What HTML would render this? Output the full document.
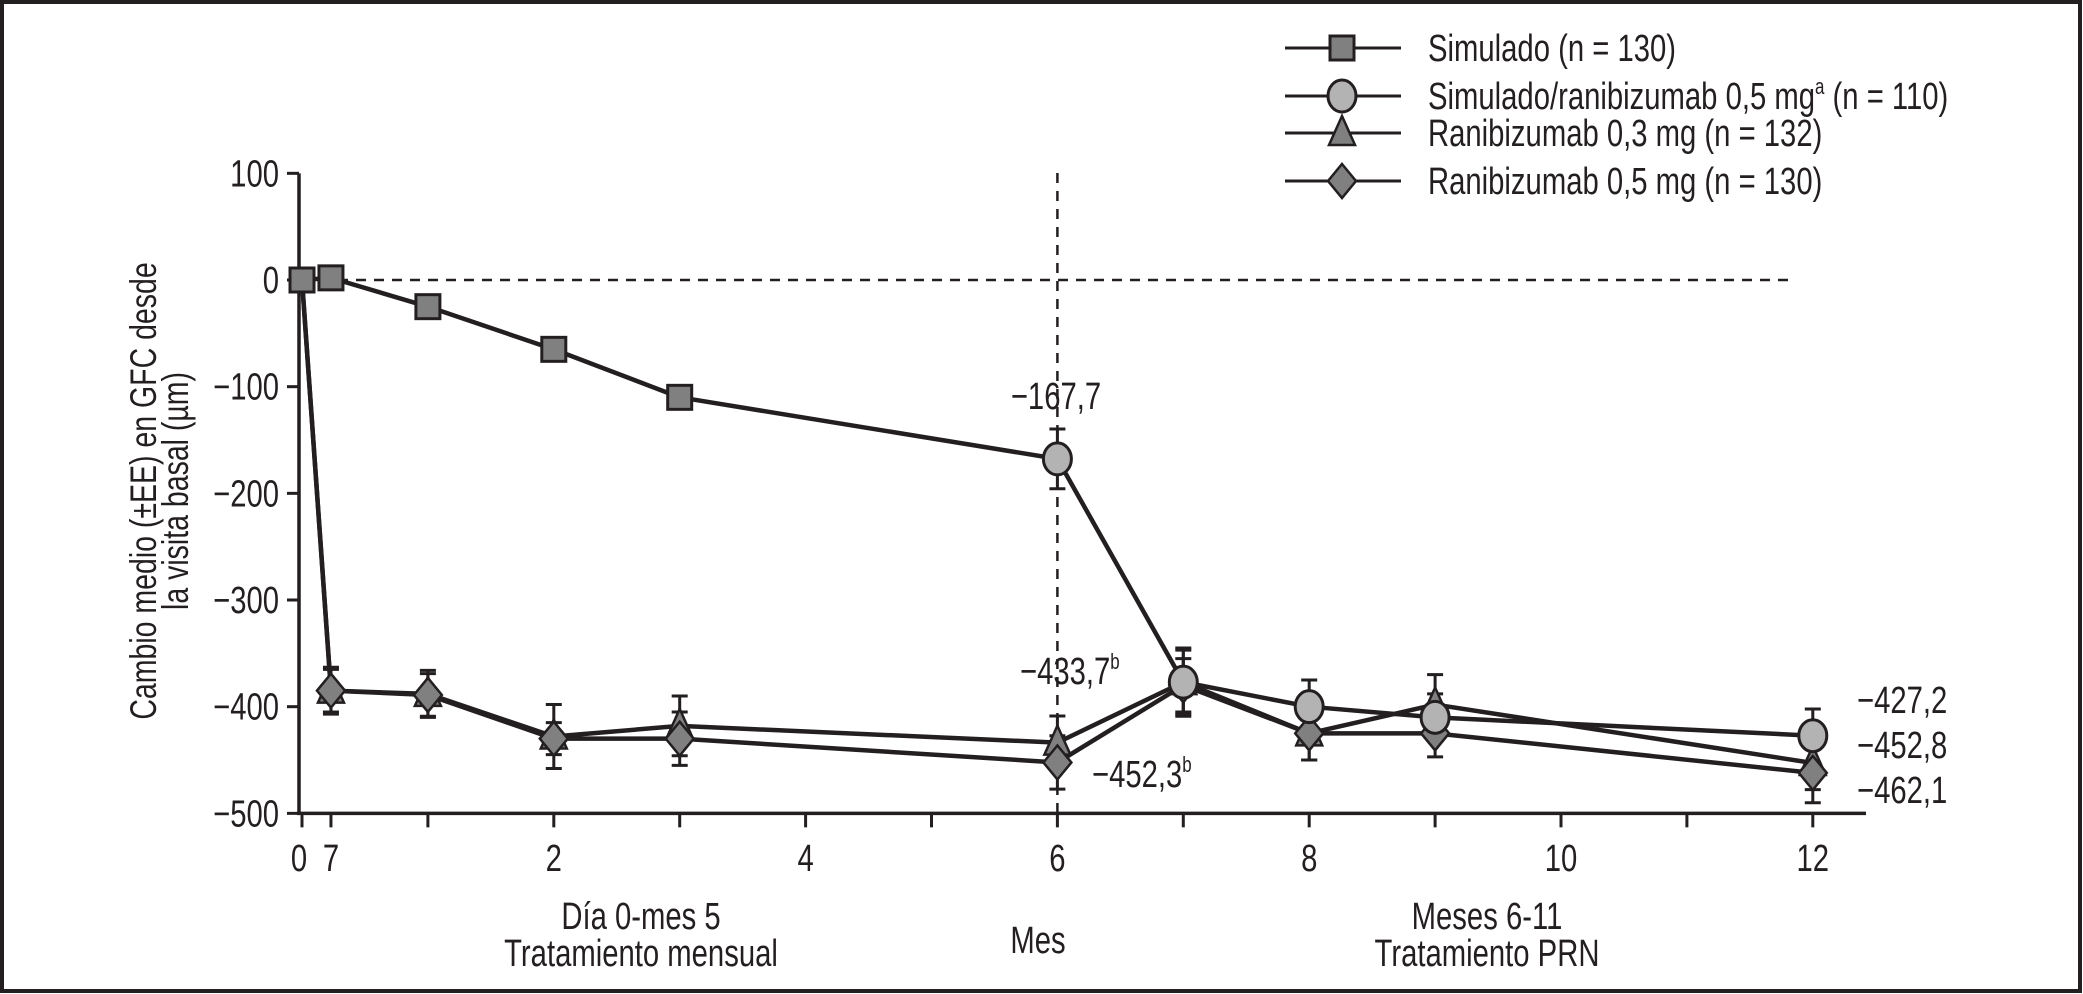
<!DOCTYPE html>
<html><head><meta charset="utf-8"><style>
html,body{margin:0;padding:0;background:#fff}
svg{display:block}
text{font-family:"Liberation Sans",sans-serif;fill:#231f20}
</style></head><body>
<svg id="chart" width="2083" height="994" viewBox="0 0 2083 994">
<rect x="2" y="2" width="2078" height="989" fill="#fff" stroke="#231f20" stroke-width="4"/>
<g id="plot"></g>
</svg>
<script>
const yTicks=[100,0,-100,-200,-300,-400,-500];
const yTickLabels=["100","0","−100","−200","−300","−400","−500"];
const xTicksMonths=[0,0.23,1,2,3,4,5,6,7,8,9,10,11,12];
const xTickLabelPos=[0,0.23,2,4,6,8,10,12];
const xTickLabels=["0","7","2","4","6","8","10","12"];
const shamX=[0,0.23,1,2,3,6];
const shamY=[0,2,-25,-65,-110,-167.7];
const shamRaniX=[6,7,8,9,12];
const shamRaniY=[-167.7,-377,-400,-410,-427.2];
const shamRaniErr=[28,32,25,22,25];
const r03X=[0,0.23,1,2,3,6,7,8,9,12];
const r03Y=[0,-385,-388,-428,-418,-433.7,-377,-425,-398,-452.8];
const r03Err=[0,20,22,30,28,25,30,25,28,25];
const r05X=[0,0.23,1,2,3,6,7,8,9,12];
const r05Y=[0,-385,-389,-430,-430,-452.3,-380,-425,-425,-462.1];
const r05Err=[0,22,20,15,25,25,25,25,22,28];

const NS="http://www.w3.org/2000/svg";
const g=document.getElementById('plot');
const X=m=>302+m*125.9;
const Y=v=>280-v*1.0667;
function el(tag,attrs,parent){const e=document.createElementNS(NS,tag);for(const k in attrs)e.setAttribute(k,attrs[k]);(parent||g).appendChild(e);return e;}
function txt(x,y,s,anchor,size,name){const t=el('text',{x:0,y:0,'font-size':size||38,'text-anchor':anchor||'start',transform:`translate(${x},${y}) scale(0.77,1)`});t.textContent=s;

return t;}
const ink='#231f20',grey='#808080',lgrey='#b3b3b3';

let a=el('line',{x1:299,y1:Y(100),x2:299,y2:Y(-500),stroke:ink,'stroke-width':3.5});


a=el('line',{x1:297,y1:Y(-500),x2:1866,y2:Y(-500),stroke:ink,'stroke-width':3.5});


yTicks.forEach((v,i)=>{const t=el('line',{x1:287,y1:Y(v),x2:299,y2:Y(v),stroke:ink,'stroke-width':3});


txt(279,Y(v)+13,yTickLabels[i],'end',38,'y-tick-label');});
xTicksMonths.forEach(m=>{const t=el('line',{x1:X(m),y1:Y(-500),x2:X(m),y2:Y(-500)+14,stroke:ink,'stroke-width':3});

});
xTickLabelPos.forEach((m,i)=>txt(X(m)+(i==0?-3:0),871,xTickLabels[i],'middle',38,'x-tick-label'));

a=el('line',{x1:302,y1:Y(0),x2:1795,y2:Y(0),stroke:ink,'stroke-width':2.5,'stroke-dasharray':'10,8'});


a=el('line',{x1:X(6),y1:173,x2:X(6),y2:813,stroke:ink,'stroke-width':2.5,'stroke-dasharray':'10,8'});



const yt=el('text',{transform:'translate(156,491) rotate(-90) scale(0.77,1)','font-size':37,'text-anchor':'middle'});


yt.innerHTML='<tspan x="0" y="0">Cambio medio (±EE) en GFC desde</tspan><tspan x="0" y="32">la visita basal (µm)</tspan>';
txt(641,929,'Día 0-mes 5','middle',38,'phase1-label');
txt(641,966,'Tratamiento mensual','middle',38,'phase1-sublabel');
txt(1038,953,'Mes','middle',38,'x-axis-title');
txt(1487,929,'Meses 6-11','middle',38,'phase2-label');
txt(1487,966,'Tratamiento PRN','middle',38,'phase2-sublabel');

function line(xs,ys,name){const p=el('polyline',{points:xs.map((x,i)=>X(x)+','+Y(ys[i])).join(' '),fill:'none',stroke:ink,'stroke-width':4.5,'stroke-linejoin':'round'});

}
function errs(xs,ys,es,name){xs.forEach((x,i)=>{if(!es[i])return;const cx=X(x);const a=Y(ys[i]+es[i]),b=Y(ys[i]-es[i]);
const e=el('path',{d:`M${cx},${a}V${b}M${cx-8},${a}H${cx+8}M${cx-8},${b}H${cx+8}`,stroke:ink,'stroke-width':3,fill:'none'});

});}
function marker(type,cx,cy,name){let m;
if(type=='sq')m=el('rect',{x:cx-12,y:cy-12,width:24,height:24,fill:grey,stroke:ink,'stroke-width':3});
else if(type=='ci')m=el('ellipse',{cx:cx,cy:cy,rx:14,ry:16,fill:lgrey,stroke:ink,'stroke-width':3});
else if(type=='tr')m=el('path',{d:`M${cx},${cy-17}L${cx+13},${cy+12}L${cx-13},${cy+12}Z`,fill:grey,stroke:ink,'stroke-width':2.5});
else m=el('path',{d:`M${cx},${cy-17}L${cx+14},${cy}L${cx},${cy+17}L${cx-14},${cy}Z`,fill:grey,stroke:ink,'stroke-width':2.5});

}

errs(shamRaniX,shamRaniY,shamRaniErr,'error-bar-sham-ranibizumab');
errs(r03X,r03Y,r03Err,'error-bar-ranibizumab-03');
errs(r05X,r05Y,r05Err,'error-bar-ranibizumab-05');
line(shamX,shamY,'line-sham');
line(shamRaniX,shamRaniY,'line-sham-ranibizumab');
line(r03X,r03Y,'line-ranibizumab-03');
line(r05X,r05Y,'line-ranibizumab-05');
shamX.forEach((x,i)=>{if(i<shamX.length-1)marker('sq',X(x),Y(shamY[i]),'point-sham');});
r03X.forEach((x,i)=>{if(i>0)marker('tr',X(x),Y(r03Y[i]),'point-ranibizumab-03');});
r05X.forEach((x,i)=>{if(i>0)marker('di',X(x),Y(r05Y[i]),'point-ranibizumab-05');});
shamRaniX.forEach((x,i)=>marker('ci',X(x),Y(shamRaniY[i]),'point-sham-ranibizumab'));

txt(1056,409,'−167,7','middle',38,'annotation-month6-sham');
let t=txt(1020,684,'−433,7','start',38,'annotation-month6-r03');t.innerHTML='−433,7<tspan font-size="22" dy="-15">b</tspan>';
t=txt(1092,787,'−452,3','start',38,'annotation-month6-r05');t.innerHTML='−452,3<tspan font-size="22" dy="-15">b</tspan>';
txt(1857,713,'−427,2','start',38,'end-label-sham-ranibizumab');
txt(1857,758,'−452,8','start',38,'end-label-ranibizumab-03');
txt(1857,803,'−462,1','start',38,'end-label-ranibizumab-05');

const leg=[['sq','Simulado (n = 130)',48],['ci','Simulado/ranibizumab 0,5 mg',96],['tr','Ranibizumab 0,3 mg (n = 132)',133],['di','Ranibizumab 0,5 mg (n = 130)',181]];
leg.forEach((l,i)=>{const ln=el('line',{x1:1285,y1:l[2],x2:1401,y2:l[2],stroke:ink,'stroke-width':3});


marker(l[0],1342,l[2],'legend-marker');
const t=txt(1428,l[2]+13,l[1],'start',38,'legend-entry');
if(i==1)t.innerHTML='Simulado/ranibizumab 0,5 mg<tspan font-size="22" dy="-15">a</tspan><tspan dy="15"> (n = 110)</tspan>';});
</script>
</body></html>
